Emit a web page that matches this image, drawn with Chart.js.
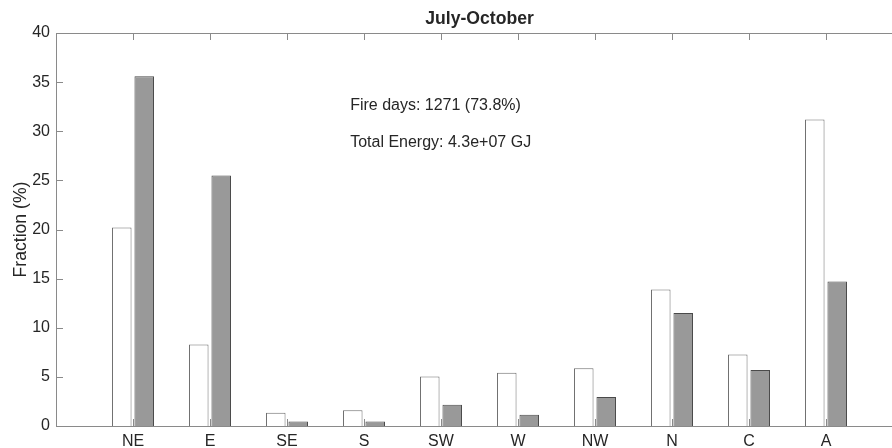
<!DOCTYPE html>
<html>
<head>
<meta charset="utf-8">
<script src="https://cdn.jsdelivr.net/npm/chart.js@4"></script>
<style>
    html, body { margin: 0; padding: 0; background: #fff; overflow: hidden; }
    #wrap { width: 910px; height: 448px; }
</style>
</head>
<body>
<div id="wrap"><canvas id="chart" width="910" height="448"></canvas></div>
<script>
// chart data
const categories = ['NE', 'E', 'SE', 'S', 'SW', 'W', 'NW', 'N', 'C', 'A'];
const fireDays = [20.2, 8.3, 1.35, 1.6, 5.05, 5.42, 5.87, 13.9, 7.29, 31.2];
const energy = [35.6, 25.5, 0.45, 0.45, 2.17, 1.15, 2.95, 11.5, 5.7, 14.7];
const yTicks = [0, 5, 10, 15, 20, 25, 30, 35, 40];
const titleText = 'July-October';
const notes = ['Fire days: 1271 (73.8%)', 'Total Energy: 4.3e+07 GJ'];

const FONT = "'Liberation Sans', Arial, sans-serif";
const TXT = '#262626';
const AXIS = '#8a8a8a';

// empty slot on each side so the categories sit at 1..10 of 0..11
const labels = ['', ...categories, ''];
const pad = arr => [null, ...arr, null];

// box, inward ticks, title and the two notes
const matlabAxes = {
    id: 'matlabAxes',
    afterDatasetsDraw(chart) {
        const { ctx, chartArea: a, scales } = chart;
        const x = scales.x, y = scales.y;
        const tl = 7;
        ctx.save();
        ctx.strokeStyle = AXIS;
        ctx.lineWidth = 1;
        ctx.beginPath();
        ctx.rect(Math.round(a.left) + 0.5, Math.round(a.top) + 0.5,
                 Math.round(a.right - a.left), Math.round(a.bottom - a.top));
        categories.forEach((c, i) => {
            const px = Math.round(x.getPixelForValue(i + 1)) + 0.5;
            ctx.moveTo(px, a.bottom); ctx.lineTo(px, a.bottom - tl);
            ctx.moveTo(px, a.top); ctx.lineTo(px, a.top + tl);
        });
        yTicks.forEach(v => {
            const py = Math.round(y.getPixelForValue(v)) + 0.5;
            ctx.moveTo(a.left, py); ctx.lineTo(a.left + tl, py);
            ctx.moveTo(a.right, py); ctx.lineTo(a.right - tl, py);
        });
        ctx.stroke();

        ctx.fillStyle = TXT;
        ctx.textAlign = 'center';
        ctx.textBaseline = 'middle';
        ctx.font = 'bold 17.6px ' + FONT;
        ctx.fillText(titleText, (a.left + a.right) / 2, 19.5);

        ctx.textAlign = 'left';
        ctx.font = '16px ' + FONT;
        ctx.fillText(notes[0], x.getPixelForValue(3.82), y.getPixelForValue(32.6));
        ctx.fillText(notes[1], x.getPixelForValue(3.82), y.getPixelForValue(28.8));
        ctx.restore();
    }
};

new Chart(document.getElementById('chart'), {
    type: 'bar',
    data: {
        labels: labels,
        datasets: [
            {
                label: 'Fire days',
                data: pad(fireDays),
                backgroundColor: '#ffffff',
                borderColor: '#6e6e6e',
                borderWidth: 1,
                categoryPercentage: 0.584,
                barPercentage: 0.87
            },
            {
                label: 'Energy',
                data: pad(energy),
                backgroundColor: '#999999',
                borderColor: '#4a4a4a',
                borderWidth: 1,
                categoryPercentage: 0.584,
                barPercentage: 0.87
            }
        ]
    },
    options: {
        responsive: false,
        animation: false,
        layout: { padding: { top: 33, right: 7, left: 0, bottom: 0 } },
        plugins: {
            legend: { display: false },
            tooltip: { enabled: false }
        },
        scales: {
            x: {
                offset: false,
                grid: { display: false, drawTicks: false },
                border: { display: false },
                ticks: {
                    autoSkip: false,
                    maxRotation: 0,
                    padding: 6,
                    color: TXT,
                    font: { size: 16, family: FONT }
                },
                afterFit: s => { s.height = 22; }
            },
            y: {
                min: 0,
                max: 40,
                grid: { display: false, drawTicks: false },
                border: { display: false },
                ticks: {
                    stepSize: 5,
                    padding: 6,
                    color: TXT,
                    font: { size: 16, family: FONT }
                },
                title: {
                    display: true,
                    text: 'Fraction (%)',
                    color: TXT,
                    font: { size: 17.6, family: FONT },
                    padding: { top: 10.5, bottom: 0 }
                },
                afterFit: s => { s.width = 56; }
            }
        }
    },
    plugins: [matlabAxes]
});
</script>
</body>
</html>
